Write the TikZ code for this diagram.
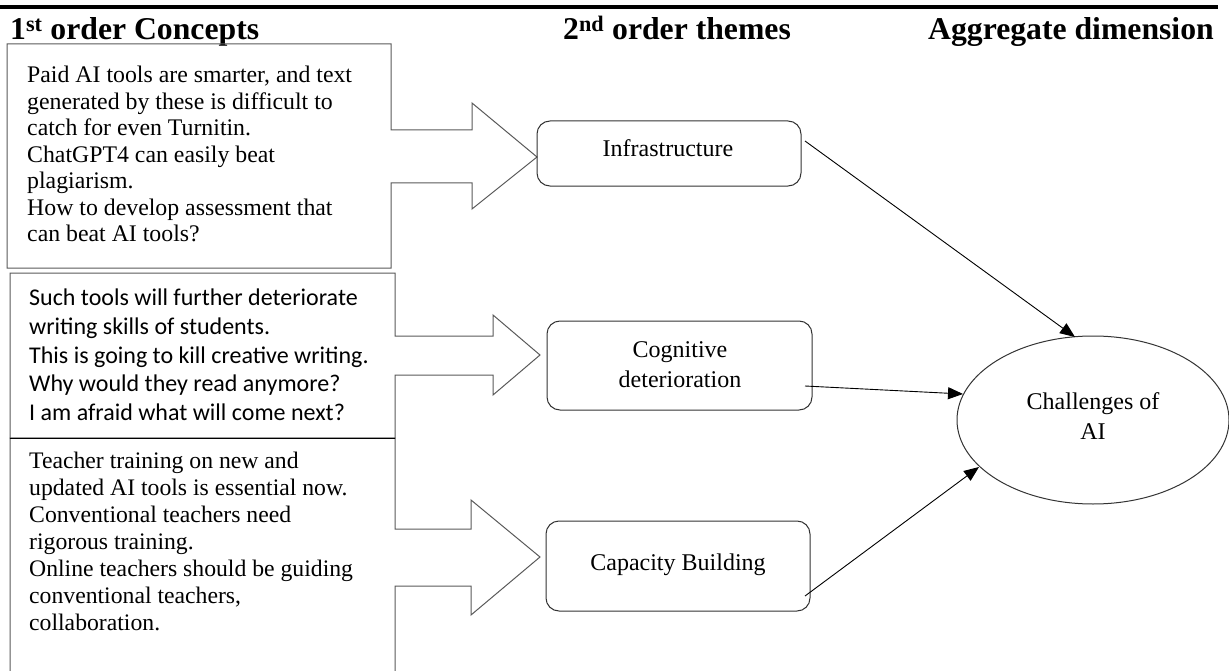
\documentclass[tikz,border=0pt]{standalone}
\usepackage{fontspec}
\setmainfont{Liberation Serif}
\newfontfamily\calib{Carlito}
\usetikzlibrary{shapes.geometric,arrows.meta}
\begin{document}
\begin{tikzpicture}[x=1bp,y=-1bp,
  callout/.style={draw=black!65,line width=1bp,line join=miter},
  theme/.style={draw=black!80,line width=1bp,rounded corners=13bp,inner sep=0pt},
  conn/.style={line width=0.9bp,-{Triangle[length=15bp,width=12bp]}},
  body/.style={anchor=north west,inner sep=0pt,align=left,font=\fontsize{23.8bp}{26.5bp}\selectfont},
  head/.style={anchor=base west,inner sep=0pt,font=\fontsize{31.7bp}{35bp}\selectfont\bfseries},
  lbl/.style={inner sep=0pt,align=center,font=\fontsize{24bp}{30bp}\selectfont}]
\useasboundingbox (0,0) rectangle (1229,671);
\clip (0,0) rectangle (1229,671);

% top rule
\draw[line width=4bp] (0,7) -- (1218,7);

% headings
\node[head] (h1) at (10,40) {1\textsuperscript{st} order Concepts};
\node[head] (h2) at (563,40) {2\textsuperscript{nd} order themes};
\node[head] (h3) at (928,40) {Aggregate dimension};

% callout boxes (1st order concepts)
\draw[callout] (7,44) -- (391,44) -- (391,130) -- (472,130) -- (472,103) -- (537,157)
  -- (472,209) -- (472,183) -- (391,183) -- (391,268) -- (7,268) -- cycle;
\draw[callout] (10,273) -- (395,273) -- (395,336) -- (493,336) -- (493,315) -- (540,355)
  -- (493,395) -- (493,375) -- (395,375) -- (395,438) -- (10,438) -- cycle;
\draw[callout] (10,438) -- (395,438) -- (395,529) -- (471,529) -- (471,500) -- (540,557)
  -- (471,615) -- (471,586) -- (395,586) -- (395,700) -- (10,700) -- cycle;
\draw[line width=1bp] (10,438) -- (395,438);

\node[body] (c1) at (27,66) {Paid AI tools are smarter, and text\\generated by these is difficult to\\catch for even Turnitin.\\ChatGPT4 can easily beat\\plagiarism.\\How to develop assessment that\\can beat AI tools?};
\node[body,font=\calib\fontsize{24bp}{28.7bp}\selectfont] (c2) at (29,289) {Such tools will further deteriorate\\writing skills of students.\\This is going to kill creative writing.\\Why would they read anymore?\\I am afraid what will come next?};
\node[body,font=\fontsize{23.7bp}{27bp}\selectfont] (c3) at (29,452) {Teacher training on new and\\updated AI tools is essential now.\\Conventional teachers need\\rigorous training.\\Online teachers should be guiding\\conventional teachers,\\collaboration.};

% 2nd order themes
\node[theme,minimum width=264bp,minimum height=65bp] (infra) at (669,153.5) {};
\node[lbl,anchor=base] (infratxt) at (668,157) {Infrastructure};
\node[theme,minimum width=265bp,minimum height=89bp] (cog) at (679.5,365.5) {};
\node[lbl,anchor=north] (cogtxt) at (680,341) {Cognitive\\deterioration};
\node[theme,minimum width=264bp,minimum height=90bp] (cap) at (678,566) {};
\node[lbl,anchor=base] (captxt) at (678,570) {Capacity Building};

% aggregate dimension
\node[ellipse,draw=black!80,line width=1bp,minimum width=272bp,minimum height=168bp,inner sep=0pt] (chal) at (1093,420) {};
\node[lbl,anchor=north] (chaltxt) at (1093,392) {Challenges of\\AI};

% connectors
\coordinate (s1) at (805,141); \coordinate (e1) at (1075,337);
\coordinate (s2) at (805,386); \coordinate (e2) at (963,394);
\coordinate (s3) at (805,596); \coordinate (e3) at (979,467);
\draw[conn] (s1) -- (e1);
\draw[conn] (s2) -- (e2);
\draw[conn] (s3) -- (e3);
\end{tikzpicture}
\end{document}
